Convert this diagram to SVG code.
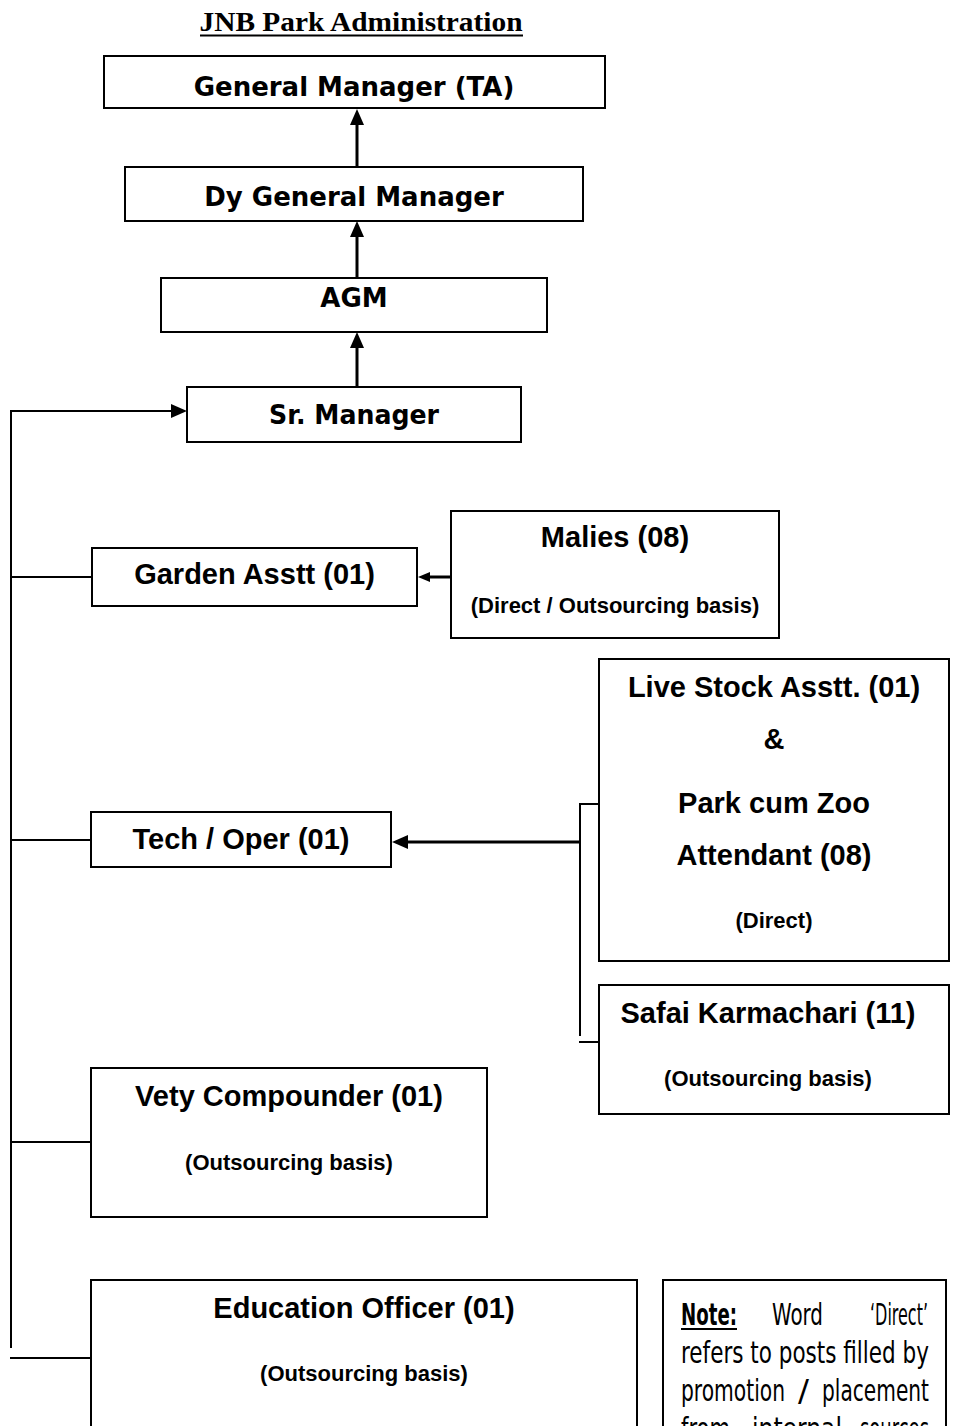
<svg xmlns="http://www.w3.org/2000/svg" width="956" height="1426" viewBox="0 0 956 1426">
<style>
  .box{fill:#fff;stroke:#000;stroke-width:2}
  .t1{font-family:"DejaVu Sans","Liberation Sans",sans-serif;font-weight:bold;font-size:26px;text-anchor:middle;fill:#000}
  .t2{font-family:"Liberation Sans",Arial,sans-serif;font-weight:bold;font-size:29px;text-anchor:middle;fill:#000}
  .t3{font-family:"Liberation Sans",Arial,sans-serif;font-weight:bold;font-size:22px;text-anchor:middle;fill:#000}
  .title{font-family:"Liberation Serif","Times New Roman",serif;font-weight:bold;font-size:28px;text-anchor:middle;fill:#000}
  .note{font-family:"DejaVu Sans Condensed","DejaVu Sans",sans-serif;font-size:30px;fill:#000}
  .thick{stroke:#000;stroke-width:3;fill:none}
  .thin{stroke:#000;stroke-width:2;fill:none}
</style>
<defs>
  <marker id="ah" markerUnits="userSpaceOnUse" markerWidth="16" markerHeight="14" refX="2" refY="7" orient="auto">
    <path d="M0,0 L16,7 L0,14 z" fill="#000"/>
  </marker>
  <marker id="ahs" markerUnits="userSpaceOnUse" markerWidth="12" markerHeight="10" refX="2" refY="5" orient="auto">
    <path d="M0,0 L12,5 L0,10 z" fill="#000"/>
  </marker>
</defs>
<rect width="956" height="1426" fill="#fff"/>

<g id="title">
  <text class="title" x="361" y="31" textLength="323" lengthAdjust="spacingAndGlyphs">JNB Park Administration</text>
  <line x1="200" y1="35.5" x2="523" y2="35.5" stroke="#000" stroke-width="2"/>
</g>

<g id="connectors">
  <line class="thick" x1="357" y1="167" x2="357" y2="123" marker-end="url(#ah)"/>
  <line class="thick" x1="357" y1="278" x2="357" y2="235" marker-end="url(#ah)"/>
  <line class="thick" x1="357" y1="387" x2="357" y2="346" marker-end="url(#ah)"/>
  <path class="thin" d="M11,1348 L11,411 L173,411" marker-end="url(#ah)"/>
  <line class="thin" x1="11" y1="577" x2="92" y2="577"/>
  <line class="thin" x1="11" y1="840" x2="91" y2="840"/>
  <line class="thin" x1="11" y1="1142" x2="91" y2="1142"/>
  <line class="thin" x1="10" y1="1358" x2="91" y2="1358"/>
  <line class="thick" x1="451" y1="577" x2="428" y2="577" marker-end="url(#ahs)"/>
  <line class="thick" x1="580" y1="842" x2="406" y2="842" marker-end="url(#ah)"/>
  <path class="thin" d="M599,804 L580,804 L580,1036"/>
  <line class="thin" x1="579" y1="1042" x2="599" y2="1042"/>
</g>

<g id="gm">
  <rect class="box" x="104" y="56" width="501" height="52"/>
  <text class="t1" x="354" y="96">General Manager (TA)</text>
</g>
<g id="dgm">
  <rect class="box" x="125" y="167" width="458" height="54"/>
  <text class="t1" x="354" y="206">Dy General Manager</text>
</g>
<g id="agm">
  <rect class="box" x="161" y="278" width="386" height="54"/>
  <text class="t1" x="354" y="307">AGM</text>
</g>
<g id="srmgr">
  <rect class="box" x="187" y="387" width="334" height="55"/>
  <text class="t1" x="354" y="424" textLength="170" lengthAdjust="spacingAndGlyphs">Sr. Manager</text>
</g>
<g id="garden">
  <rect class="box" x="92" y="548" width="325" height="58"/>
  <text class="t2" x="254.5" y="584">Garden Asstt (01)</text>
</g>
<g id="malies">
  <rect class="box" x="451" y="511" width="328" height="127"/>
  <text class="t2" x="615" y="547">Malies (08)</text>
  <text class="t3" x="615" y="613">(Direct / Outsourcing basis)</text>
</g>
<g id="tech">
  <rect class="box" x="91" y="812" width="300" height="55"/>
  <text class="t2" x="241" y="849">Tech / Oper (01)</text>
</g>
<g id="livestock">
  <rect class="box" x="599" y="659" width="350" height="302"/>
  <text class="t2" x="774" y="697">Live Stock Asstt. (01)</text>
  <text class="t2" x="774" y="749">&amp;</text>
  <text class="t2" x="774" y="813">Park cum Zoo</text>
  <text class="t2" x="774" y="865">Attendant (08)</text>
  <text class="t3" x="774" y="928">(Direct)</text>
</g>
<g id="safai">
  <rect class="box" x="599" y="985" width="350" height="129"/>
  <text class="t2" x="768" y="1023">Safai Karmachari (11)</text>
  <text class="t3" x="768" y="1086">(Outsourcing basis)</text>
</g>
<g id="vety">
  <rect class="box" x="91" y="1068" width="396" height="149"/>
  <text class="t2" x="289" y="1106">Vety Compounder (01)</text>
  <text class="t3" x="289" y="1170">(Outsourcing basis)</text>
</g>
<g id="education">
  <rect class="box" x="91" y="1280" width="546" height="170"/>
  <text class="t2" x="364" y="1318">Education Officer (01)</text>
  <text class="t3" x="364" y="1381">(Outsourcing basis)</text>
</g>
<g id="note">
  <rect class="box" x="663" y="1280" width="283" height="170"/>
  <text class="note" transform="translate(681,1325) scale(0.8,1)" font-weight="bold" textLength="70" lengthAdjust="spacingAndGlyphs">Note:</text>
  <line x1="681" y1="1329" x2="737" y2="1329" stroke="#000" stroke-width="2"/>
  <text class="note" transform="translate(772,1325) scale(0.8,1)" textLength="63.75" lengthAdjust="spacingAndGlyphs">Word</text>
  <text class="note" transform="translate(870,1325) scale(0.8,1)" textLength="72.5" lengthAdjust="spacingAndGlyphs">‘Direct’</text>
  <text class="note" transform="translate(681,1363) scale(0.8,1)" textLength="310" lengthAdjust="spacingAndGlyphs">refers to posts filled by</text>
  <text class="note" transform="translate(681,1401) scale(0.8,1)" textLength="130" lengthAdjust="spacingAndGlyphs">promotion</text>
  <text class="note" transform="translate(798,1401) scale(0.8,1)" textLength="13.75" lengthAdjust="spacingAndGlyphs">/</text>
  <text class="note" transform="translate(822,1401) scale(0.8,1)" textLength="133.75" lengthAdjust="spacingAndGlyphs">placement</text>
  <text class="note" transform="translate(681,1439) scale(0.8,1)" textLength="61.25" lengthAdjust="spacingAndGlyphs">from</text>
  <text class="note" transform="translate(752,1439) scale(0.8,1)" textLength="112.5" lengthAdjust="spacingAndGlyphs">internal</text>
  <text class="note" transform="translate(860,1439) scale(0.8,1)" textLength="86.25" lengthAdjust="spacingAndGlyphs">sources</text>
</g>
</svg>
